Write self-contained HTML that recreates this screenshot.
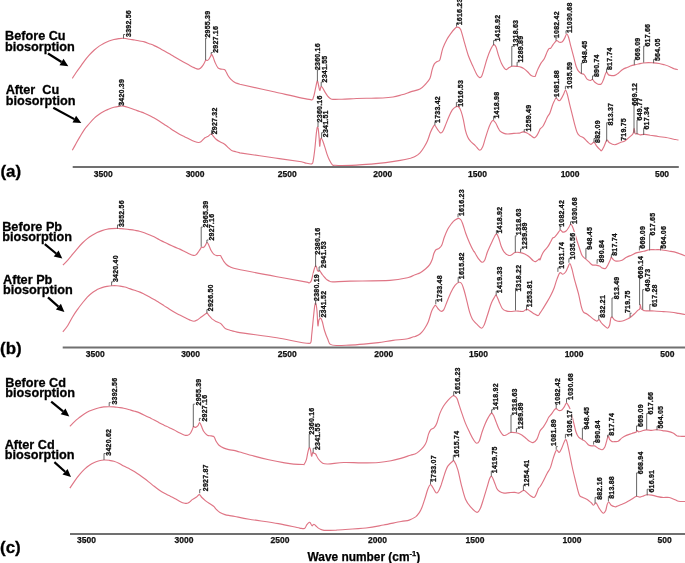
<!DOCTYPE html><html><head><meta charset="utf-8"><style>
html,body{margin:0;padding:0;background:#fff;}
body{width:685px;height:563px;overflow:hidden;position:relative;}
svg{position:absolute;left:0;top:0;display:block;will-change:transform;}
text{font-family:"Liberation Sans",sans-serif;font-weight:bold;}
</style></head><body>
<svg width="685" height="563" viewBox="0 0 685 563">
<line x1="72.7" y1="166.9" x2="678.8" y2="166.9" stroke="#707070" stroke-width="2"/>
<text x="103.2" y="176.5" font-size="8.5" text-anchor="middle" fill="#111" stroke="#111" stroke-width="0.25">3500</text>
<text x="195.1" y="176.5" font-size="8.5" text-anchor="middle" fill="#111" stroke="#111" stroke-width="0.25">3000</text>
<text x="287.2" y="176.5" font-size="8.5" text-anchor="middle" fill="#111" stroke="#111" stroke-width="0.25">2500</text>
<text x="382.8" y="176.5" font-size="8.5" text-anchor="middle" fill="#111" stroke="#111" stroke-width="0.25">2000</text>
<text x="477.5" y="176.5" font-size="8.5" text-anchor="middle" fill="#111" stroke="#111" stroke-width="0.25">1500</text>
<text x="570.1" y="176.5" font-size="8.5" text-anchor="middle" fill="#111" stroke="#111" stroke-width="0.25">1000</text>
<text x="662" y="176.5" font-size="8.5" text-anchor="middle" fill="#111" stroke="#111" stroke-width="0.25">500</text>
<line x1="62.7" y1="347.6" x2="685" y2="347.6" stroke="#707070" stroke-width="2"/>
<text x="95.3" y="357.4" font-size="8.5" text-anchor="middle" fill="#111" stroke="#111" stroke-width="0.25">3500</text>
<text x="190.6" y="357.4" font-size="8.5" text-anchor="middle" fill="#111" stroke="#111" stroke-width="0.25">3000</text>
<text x="287.2" y="357.4" font-size="8.5" text-anchor="middle" fill="#111" stroke="#111" stroke-width="0.25">2500</text>
<text x="383.8" y="357.4" font-size="8.5" text-anchor="middle" fill="#111" stroke="#111" stroke-width="0.25">2000</text>
<text x="478.5" y="357.4" font-size="8.5" text-anchor="middle" fill="#111" stroke="#111" stroke-width="0.25">1500</text>
<text x="574.1" y="357.4" font-size="8.5" text-anchor="middle" fill="#111" stroke="#111" stroke-width="0.25">1000</text>
<text x="667.3" y="357.4" font-size="8.5" text-anchor="middle" fill="#111" stroke="#111" stroke-width="0.25">500</text>
<line x1="70" y1="534.1" x2="685" y2="534.1" stroke="#707070" stroke-width="2"/>
<text x="86.5" y="543.4" font-size="8.5" text-anchor="middle" fill="#111" stroke="#111" stroke-width="0.25">3500</text>
<text x="184" y="543.4" font-size="8.5" text-anchor="middle" fill="#111" stroke="#111" stroke-width="0.25">3000</text>
<text x="280" y="543.4" font-size="8.5" text-anchor="middle" fill="#111" stroke="#111" stroke-width="0.25">2500</text>
<text x="377.5" y="543.4" font-size="8.5" text-anchor="middle" fill="#111" stroke="#111" stroke-width="0.25">2000</text>
<text x="475" y="543.4" font-size="8.5" text-anchor="middle" fill="#111" stroke="#111" stroke-width="0.25">1500</text>
<text x="572" y="543.4" font-size="8.5" text-anchor="middle" fill="#111" stroke="#111" stroke-width="0.25">1000</text>
<text x="664.6" y="543.4" font-size="8.5" text-anchor="middle" fill="#111" stroke="#111" stroke-width="0.25">500</text>
<path d="M72.3,78.4C72.9,77.5 74.6,74.8 75.8,73C77,71.2 78.2,69.6 79.7,67.6C81.2,65.6 82.9,62.9 84.5,60.8C86.1,58.7 87.8,56.7 89.4,54.9C91,53.1 92.7,51.5 94.3,50C95.9,48.5 97.6,47.2 99.2,46.1C100.8,45 102.5,44.1 104.1,43.2C105.7,42.4 107.4,41.6 109,41C110.6,40.4 112.3,39.9 113.9,39.5C115.5,39.1 117.2,38.8 118.8,38.6C120.4,38.4 121.8,38.2 123.6,38.3C125.4,38.4 128,39 129.8,39.3C131.7,39.6 133.1,39.7 134.7,40C136.3,40.3 138,40.7 139.6,41C141.2,41.3 142.8,41.4 144.4,41.9C146,42.4 147.7,43.1 149.3,43.7C150.9,44.3 152.6,44.9 154.2,45.6C155.8,46.3 157.5,47.2 159.1,48.1C160.7,49 162.4,49.8 164,50.7C165.6,51.6 167.3,52.5 168.9,53.5C170.5,54.5 172.2,55.4 173.8,56.4C175.4,57.4 177.7,58.7 178.7,59.3C179.7,59.9 178.9,59.4 179.9,60C180.9,60.6 183.2,61.8 184.8,62.7C186.4,63.6 188.1,64.5 189.7,65.4C191.3,66.3 193.2,67.3 194.6,67.9C196,68.5 197,69 198,69.1C199,69.2 199.6,68.9 200.4,68.3C201.2,67.7 202.2,66.5 202.9,65.4C203.6,64.4 204.3,62.9 204.8,62C205.3,61.1 205.4,60.2 205.8,60C206.2,59.8 206.8,60.6 207.3,60.5C207.8,60.4 208.1,60.2 208.7,59.5C209.3,58.8 210.2,57 210.7,56.1C211.2,55.2 211.3,54 211.7,54.2C212.1,54.4 212.5,55.7 213.1,57.1C213.7,58.5 214.3,60.7 215.1,62.5C215.9,64.3 217,66.8 218,67.9C219,69 219.8,68.8 220.9,69.1C222,69.4 223.6,69.1 224.4,69.5C225.2,69.9 225.2,70.3 225.8,71.3C226.4,72.2 227,73.9 227.8,75.2C228.6,76.5 229.5,77.9 230.7,79.1C231.9,80.3 233.5,81.7 235,82.5C236.5,83.3 235,82.6 239.9,84.2C246.6,85.8 263.2,89.4 275,92C286.8,94.6 304.2,98.8 310.6,99.6C313.5,100.4 312.7,98.9 313.5,97C314.3,95.1 315,90.7 315.6,88C316.2,85.3 316.8,81.5 317.3,81C317.8,80.5 318.1,83.4 318.5,85C318.9,86.6 319.3,90.2 319.8,90.5C320.3,90.8 320.5,86.1 321.5,86.6C322.5,87.1 324.6,91.7 325.8,93.4C327,95.1 327.5,96 328.5,97C329.5,98 329.5,98.8 331.7,99.2C333.9,99.6 337.8,99.3 341.9,99.2C346,99.1 351.6,98.7 356.5,98.5C361.4,98.3 366.7,98.3 371.1,98.2C375.5,98.1 379.2,98.2 382.8,98C386.4,97.8 389.8,97.5 393,97C396.2,96.5 398.9,95.6 401.8,94.8C404.7,94 407.5,92.9 410.5,91.9C413.5,90.9 417.5,90.3 420,89C422.5,87.7 424,85.8 425.7,84C427.4,82.2 428.9,80.7 430,78.3C431.1,75.9 431.4,72.2 432.1,69.8C432.8,67.4 433.4,65.5 434.2,64.1C435,62.7 436.2,62.2 437.1,61.5C438.1,60.8 438.9,62 439.9,59.8C440.8,57.6 441.6,51.8 442.8,48.4C444,45 445.6,41.8 447,39.2C448.4,36.6 450.1,34.5 451.3,32.8C452.6,31.1 453.6,29.9 454.5,29C455.4,28.1 456,27.1 457,27.1C458,27.1 459.3,26.8 460.5,29.2C461.7,31.6 462.8,36.9 464.1,41.3C465.4,45.7 466.9,51.5 468.3,55.5C469.7,59.5 471.2,62.3 472.6,65.5C474,68.7 475.7,72.7 476.9,74.7C478.1,76.7 478.9,77.4 479.7,77.6C480.5,77.8 481,77.5 481.8,75.9C482.6,74.3 483.4,71 484.3,68.1C485.2,65.2 486.1,61.4 487.2,58.3C488.2,55.2 489.5,51.8 490.6,49.5C491.7,47.2 492.7,45.1 493.6,44.7C494.5,44.3 495.2,45.3 496,47.1C496.8,48.9 497.6,52.7 498.5,55.4C499.4,58.1 500.4,61.1 501.4,63.2C502.4,65.3 503.5,67 504.3,68.1C505.1,69.2 505.5,69.7 506.3,69.6C507.1,69.5 508.2,68.2 509.2,67.6C510.2,67 510.8,66.4 512.1,66.2C513.4,66 515.5,66.2 517,66.4C518.5,66.6 519.8,66.7 520.9,67.1C522,67.5 522.8,67.8 523.9,68.6C525,69.4 526.6,70.8 527.8,72C529,73.2 530,74.8 531.2,75.5C532.4,76.2 534.2,76.6 535,76.4C535.8,76.2 535.3,75.9 535.8,74.6C536.3,73.3 537.2,70.7 538.1,68.8C539,66.9 540,64.8 541,63.1C542,61.4 543.4,60.4 544.4,58.5C545.4,56.6 546.5,53.1 547.3,51.5C548.1,49.9 548.4,49.3 549,48.7C549.6,48.1 550.1,48.8 550.8,48.1C551.5,47.4 552.1,45.9 553.1,44.6C554.1,43.4 555.5,41 556.5,40.6C557.5,40.2 558.4,42.1 559.4,42.3C560.4,42.5 561.4,42.4 562.3,41.7C563.2,41 563.9,39.6 564.6,38.3C565.3,37 566,34.1 566.7,34C567.4,33.9 568,35.6 568.7,37.7C569.4,39.9 570.1,43.6 571,46.9C571.9,50.2 572.9,54 573.8,57.3C574.7,60.6 575.4,64.2 576.2,66.5C577,68.8 577.6,70 578.5,71.2C579.4,72.4 580.3,72.9 581.3,73.5C582.2,74.1 583.2,73.6 584.2,74.6C585.2,75.5 586.1,78.2 587.1,79.2C588.1,80.2 589.4,80.5 590.3,80.5C591.2,80.5 591.7,79 592.4,79.3C593.1,79.5 593.6,81.2 594.6,82C595.6,82.8 597,83.9 598.1,84.2C599.2,84.5 600.3,84.7 601.2,84C602.1,83.3 602.7,81.5 603.4,79.8C604.1,78.1 605,74.9 605.6,73.6C606.2,72.3 606.3,71.8 606.7,71.9C607.1,72.1 607.6,73.9 608.2,74.5C608.8,75.1 609.3,75.2 610.4,75.4C611.5,75.6 613.5,75.8 614.8,75.4C616.1,75 617,74.2 618.3,73.2C619.6,72.2 621.2,70.4 622.7,69.4C624.2,68.5 625.5,68.1 627,67.5C628.5,66.9 630.1,66 631.4,65.6C632.6,65.2 633.3,65.2 634.5,64.9C635.7,64.6 636.9,64.3 638.4,64C639.9,63.7 641.5,63.2 643.2,63C644.9,62.8 646.7,62.6 648.5,62.6C650.3,62.6 652,62.8 653.8,62.9C655.6,63 657.3,63.2 659.1,63.5C660.9,63.8 662.6,64.3 664.4,64.8C666.2,65.3 668.2,66 669.8,66.7C671.4,67.4 672.7,68.3 674,68.8C675.3,69.3 677.2,69.5 677.8,69.6" fill="none" stroke="#df7585" stroke-width="1.15" stroke-linejoin="round"/>
<path d="M62.9,265.2C63.7,264.4 66.2,261.9 67.8,260.1C69.4,258.3 71.1,256.2 72.7,254.2C74.3,252.2 76,250.2 77.6,248.3C79.2,246.4 80.8,244.6 82.4,243C84,241.4 85.7,239.9 87.3,238.6C88.9,237.3 90.6,236.2 92.2,235.2C93.8,234.2 95.5,233.3 97.1,232.5C98.7,231.7 100.4,231.1 102,230.6C103.6,230.1 105.3,229.6 106.9,229.3C108.5,229 110.2,228.8 111.8,228.6C113.4,228.4 115.3,228.3 116.7,228.3C118.1,228.3 118.6,228.5 119.9,228.6C121.2,228.7 123.2,228.8 124.8,229C126.4,229.2 128.1,229.4 129.7,229.6C131.3,229.8 133,230 134.6,230.3C136.2,230.6 137.8,230.8 139.4,231.2C141,231.6 142.7,232.1 144.3,232.7C145.9,233.3 147.6,234 149.2,234.7C150.8,235.4 152.5,236 154.1,236.8C155.7,237.6 157.4,238.7 159,239.6C160.6,240.5 162.3,241.2 163.9,242C165.5,242.8 167,243.6 168.8,244.4C170.6,245.2 173.1,246.3 174.9,247.1C176.7,247.9 178.2,248.4 179.8,249.1C181.4,249.8 183.1,250.7 184.7,251.5C186.3,252.3 188.1,253.3 189.6,254C191.1,254.7 192.4,255.2 193.5,255.4C194.6,255.6 195.1,255.5 195.9,254.9C196.7,254.3 197.6,253 198.3,252C199,251 199.8,249.9 200.3,249.1C200.8,248.3 201,247.3 201.5,247.1C202,246.8 202.6,247.8 203.2,247.6C203.8,247.3 204.6,246.4 205.2,245.6C205.8,244.8 206.3,242.8 206.9,242.7C207.5,242.5 207.9,243.4 208.6,244.7C209.3,246 210.2,248.9 211.1,250.5C212,252.1 213,253.6 214,254.4C215,255.2 215.8,255.4 216.9,255.6C218,255.8 219.5,255.2 220.3,255.6C221.1,256 221.2,256.9 221.8,257.9C222.4,258.8 223,260.2 223.8,261.3C224.6,262.4 225.7,263.8 226.7,264.7C227.7,265.6 228.3,266 230,266.7C231.7,267.4 230,267.3 237.1,269C244.9,270.7 265.1,274.5 276.9,276.7C288.7,278.9 302.6,281.4 308.1,282.4C309.9,283.4 309.3,282.8 309.9,282.5C310.4,282.2 310.9,281.8 311.4,280.5C311.9,279.2 312.3,276.8 312.8,274.9C313.3,273 313.7,270.7 314.2,269.2C314.7,267.7 315.2,266.3 315.6,266C316,265.7 316.4,266.6 316.7,267.4C317,268.2 317.1,270 317.4,270.6C317.7,271.2 318.1,271.3 318.5,271.3C318.9,271.3 319.1,270.5 319.5,270.6C319.9,270.7 320.2,271.4 320.6,272C321,272.6 321.5,273.5 322,274.1C322.5,274.8 322.9,275.2 323.4,275.9C323.9,276.5 324.6,277.4 325.2,278C325.8,278.6 326.2,279.2 327,279.8C327.8,280.4 328.9,281 329.8,281.3C330.8,281.6 329.8,281.9 332.7,281.9C336.1,281.9 340.4,281.4 350,281.1C359.6,280.9 380.3,281 390,280.4C399.7,279.8 404.2,278.4 408.4,277.5C412.6,276.6 413,275.5 415,274.7C417,273.9 418.5,273.7 420.3,272.7C422.1,271.7 424.1,270 425.7,268.7C427.3,267.4 428.6,266.3 429.7,264.7C430.8,263.1 431.6,261.1 432.3,259.3C433,257.5 433.1,255.6 433.7,254C434.3,252.4 434.8,250.9 435.7,250C436.6,249.1 438,249.2 439,248.4C440,247.6 440.8,247.2 441.7,245.3C442.6,243.5 443.3,240 444.3,237.3C445.3,234.6 446.5,231.6 447.7,229.3C448.9,227 450.5,224.9 451.7,223.3C452.9,221.8 453.9,220.8 455,220C456.1,219.2 457.3,218.3 458.3,218.3C459.3,218.3 460.2,218.9 461,220C461.8,221.1 462.2,222.5 463,224.7C463.8,226.9 464.6,230.2 465.7,233.3C466.8,236.4 468.4,240.3 469.7,243.3C471,246.3 472.9,249.9 473.7,251.3C474.4,252.7 473.7,250.6 474.4,251.8C475.1,253 476.9,256.6 478.2,258.3C479.5,260 480.9,261.9 482,262.2C483.1,262.5 483.9,261.7 484.8,260C485.7,258.3 486.3,254.8 487.5,251.8C488.7,248.8 490.5,244.8 491.9,241.9C493.3,239 495,234.9 496.1,234.2C497.2,233.5 497.6,235.5 498.5,237.5C499.4,239.5 500.3,243.9 501.2,246.3C502.1,248.7 502.8,250.3 504,251.8C505.2,253.3 507,254.8 508.3,255.3C509.6,255.8 510.5,255.3 511.6,254.8C512.7,254.3 513.4,252.9 514.9,252.5C516.4,252.1 518.8,252.3 520.4,252.6C522,252.8 523.3,253.3 524.8,254C526.2,254.7 527.7,255.6 529.1,256.7C530.5,257.8 531.9,259.7 533,260.5C534.1,261.3 534.6,261.9 535.7,261.6C536.8,261.3 538.8,259.2 539.5,258.9C540,258.6 539.6,260.6 540,259.8C540.4,259.1 541.3,256 542.1,254.4C542.9,252.8 543.8,251.5 544.8,250.2C545.8,248.9 547,247.8 548,246.4C549,245 549.9,243.1 550.7,241.7C551.5,240.3 552.2,238.6 552.8,237.9C553.4,237.2 553.7,238 554.4,237.4C555.1,236.8 556.1,235.4 557.1,234.2C558.1,233 559.3,230.5 560.3,230.2C561.3,229.8 561.9,232 562.9,232.1C563.9,232.2 565.1,231.8 566.1,231C567.1,230.2 568,228.5 568.8,227.3C569.6,226.2 570.1,224.2 570.7,224.1C571.3,224 572,225.6 572.5,226.7C573,227.8 573.4,228.9 573.9,230.5C574.4,232.1 575,234.1 575.6,236C576.2,237.9 576.7,239.7 577.3,241.7C577.9,243.7 578.6,245.7 579.4,248C580.2,250.3 581.1,253.7 582.1,255.5C583.1,257.3 584.1,257.6 585.3,258.7C586.4,259.8 587.9,260.9 589,261.9C590.1,262.9 591,264.4 592.2,264.9C593.4,265.4 594.7,264.9 596,265.1C597.3,265.3 599.1,265.8 600,266.2C600.9,266.6 600.7,267.3 601.6,267.7C602.5,268.1 604.4,268.9 605.5,268.4C606.6,267.8 607.3,265.9 608.1,264.4C608.9,262.9 610,260.4 610.5,259.2C611,258 610.9,257.1 611.4,257.2C611.9,257.3 612.6,259.1 613.4,259.8C614.2,260.5 614.7,261 616,261.1C617.3,261.2 619.5,261.1 621.3,260.5C623,259.9 624.8,258.1 626.5,257.2C628.2,256.3 630,255.8 631.8,255C633.5,254.2 635,253.2 637,252.6C639,252 641.5,251.8 643.6,251.3C645.7,250.8 647.5,250 649.5,249.7C651.5,249.4 653.5,249.7 655.4,249.7C657.3,249.7 658.5,249.5 660.7,249.7C662.9,249.9 666,250.5 668.6,251C671.2,251.5 673.8,251.8 676.5,252.6C679.2,253.4 683.6,255.3 685,255.9" fill="none" stroke="#df7585" stroke-width="1.15" stroke-linejoin="round"/>
<path d="M69.9,426.3C70.7,425.5 73.2,422.9 74.8,421.4C76.4,419.9 78.1,418.6 79.7,417.3C81.3,416 83,414.8 84.6,413.8C86.2,412.8 87.8,411.9 89.4,411.1C91,410.3 92.7,409.8 94.3,409.2C95.9,408.6 97.6,408.1 99.2,407.7C100.8,407.3 102.5,407.1 104.1,406.9C105.7,406.7 107.4,406.7 109,406.7C110.6,406.7 112.3,406.8 113.9,406.9C115.5,407 117.2,407.3 118.8,407.5C120.4,407.7 121.9,407.8 123.7,408.2C125.5,408.6 128,409.3 129.8,409.8C131.6,410.3 133.1,410.7 134.7,411.2C136.3,411.7 138,412.2 139.6,412.9C141.2,413.6 142.8,414.4 144.4,415.2C146,416 147.7,416.8 149.3,417.6C150.9,418.4 152.6,419.1 154.2,420C155.8,420.9 157.5,421.8 159.1,422.7C160.7,423.6 162.4,424.4 164,425.2C165.6,426 167.3,426.6 168.9,427.4C170.5,428.2 172,428.9 173.8,429.8C175.6,430.7 178.1,432.1 179.9,433C181.7,433.9 183.5,434.8 184.8,435.2C186.1,435.6 186.8,435.5 187.7,435.2C188.6,434.9 189.5,434.4 190.2,433.5C190.9,432.6 191.5,431.1 192.1,430C192.7,428.9 193,427 193.6,426.6C194.2,426.2 194.8,427.6 195.5,427.4C196.2,427.2 197.3,426.4 198,425.6C198.7,424.8 199,422.4 199.6,422.5C200.2,422.6 200.7,424.6 201.4,426.1C202.1,427.6 202.8,430 203.8,431.5C204.8,433 206.1,434.5 207.3,435.2C208.5,435.9 210.1,435.6 211.2,435.9C212.3,436.2 213.3,436 214.1,436.9C214.9,437.8 215.3,439.9 216.1,441.3C216.9,442.7 217.7,444.1 219,445.2C220.3,446.3 222.3,447.4 223.9,448.1C225.5,448.8 227,449.2 228.8,449.6C230.7,450 233.2,450.2 235,450.6C236.8,451 236.4,451.1 239.6,452C242.8,452.9 249.3,454.8 254.2,456.1C259.1,457.4 263.9,458.6 268.8,459.7C273.7,460.8 279.3,461.9 283.4,462.6C287.5,463.3 290.2,463.8 293.6,464.1C297,464.4 301.7,464.5 303.5,464.5C304.2,464.5 303.7,465.1 304.2,464.3C304.7,463.5 305.8,461.6 306.4,459.7C307,457.8 307.3,454.6 307.8,452.6C308.3,450.6 308.7,448 309.2,447.6C309.7,447.2 310.2,449.1 310.6,450.5C311,451.9 311.2,455.8 311.6,456.2C312,456.6 312.3,453.1 312.7,452.6C313.1,452.1 313.4,453.1 313.9,453.3C314.4,453.5 314.9,453.1 315.6,454C316.4,454.9 317.2,457.4 318.4,459C319.6,460.6 321.1,462.5 322.7,463.3C324.3,464.1 324.5,464.1 328,464C331.5,463.9 338.2,462.7 343.8,462.5C349.4,462.3 355.5,462.9 361.3,462.9C367.1,462.9 373.8,462.9 378.8,462.5C383.8,462.1 387.3,461.5 391.1,460.8C394.9,460.1 398.4,459 401.6,458.1C404.8,457.2 408.2,455.9 410.4,455.2C412.6,454.5 413.5,454.7 415,454C416.5,453.3 417.9,452.3 419.3,451.1C420.7,449.9 422.3,448.4 423.5,446.9C424.7,445.4 425.6,444 426.4,441.9C427.2,439.8 427.8,436.1 428.5,434.1C429.2,432.1 429.7,430.9 430.6,429.8C431.6,428.7 433.1,428.9 434.2,427.7C435.3,426.5 436.1,425.1 437,422.7C437.9,420.3 438.8,416.1 439.9,413.4C441,410.7 442.1,408.4 443.4,406.3C444.7,404.2 446.3,402.2 447.7,400.6C449.1,399 450.9,397.2 452,396.4C453.1,395.6 453.3,395.3 454.1,395.7C454.9,396.1 456.2,397 457,398.5C457.8,400 458.3,402.4 459.1,404.9C459.9,407.4 460.8,410.3 461.9,413.4C463,416.5 464.2,420.2 465.5,423.4C466.8,426.6 468.4,429.8 469.8,432.7C471.2,435.6 472.9,438.8 474,440.5C475.1,442.2 475.7,443.1 476.6,443.2C477.5,443.3 478.4,442.8 479.3,441C480.2,439.2 481,435.1 482,432.2C483,429.3 484.2,426.1 485.3,423.5C486.4,420.9 487.6,418.6 488.6,416.9C489.6,415.2 490.6,413.4 491.4,413.1C492.2,412.8 492.7,413.8 493.5,415.3C494.3,416.9 495.4,420.1 496.3,422.4C497.2,424.7 497.9,426.9 499,429C500.1,431.1 501.7,434 502.9,435C504.1,436 504.8,435.4 506.1,435C507.4,434.6 508.9,432.9 510.5,432.5C512.1,432.1 514.4,432.5 516,432.8C517.6,433.1 518.9,433.5 520.4,434.2C521.9,434.9 523.3,436.1 524.8,437.2C526.2,438.3 527.7,440.1 529.1,441C530.5,441.9 531.7,442.9 533,442.6C534.3,442.3 535.6,441.3 536.8,439.4C538,437.5 539,433 540,431C541,429 542.1,428.8 543.1,427.3C544.1,425.9 545.3,424 546.2,422.3C547.1,420.6 547.8,418.8 548.7,417.3C549.6,415.9 550.9,414.8 551.8,413.6C552.7,412.4 553.6,410.7 554.3,409.9C555,409.1 555.5,408.5 556.2,408.6C556.9,408.7 557.8,410.3 558.7,410.5C559.6,410.7 560.9,410.5 561.8,409.9C562.7,409.3 563.5,407.9 564.3,406.8C565.1,405.7 565.8,403.3 566.4,403C567,402.7 567.4,404 568,404.9C568.6,405.8 569.2,406.8 569.9,408.6C570.6,410.5 571.3,413.3 572,416C572.7,418.7 573.5,422.1 574.2,424.8C574.9,427.5 575.4,430.2 576.1,432.3C576.8,434.4 577.6,436 578.6,437.2C579.6,438.4 581.2,439 582.3,439.7C583.4,440.4 584.3,440.7 585.4,441.6C586.5,442.5 588,444.6 589.1,445.3C590.2,446 591.3,445.8 592.2,445.9C593.1,446 593.7,445.5 594.7,445.9C595.8,446.3 597.2,447.8 598.5,448.4C599.8,449 601.2,449.9 602.2,449.7C603.2,449.5 604,448.5 604.7,447.2C605.4,445.9 605.9,443.5 606.5,441.6C607.1,439.7 607.7,436.3 608.2,436C608.7,435.7 609.1,438.8 609.7,439.7C610.4,440.6 611.2,441.3 612.1,441.6C613,441.9 614,441.7 615,441.6C616,441.5 617,441.8 618.2,441.2C619.4,440.6 620.6,438.9 622,437.9C623.4,436.9 624.8,436.1 626.4,435.4C628,434.7 630.2,434.1 631.9,433.5C633.5,432.9 635.4,432.4 636.3,431.9C637.2,431.4 637,430.6 637.4,430.6C637.8,430.6 637.8,431.8 638.5,431.9C639.2,432 640.5,431.3 641.8,431C643.1,430.7 644.5,430 646.1,429.9C647.7,429.8 649.8,430.3 651.6,430.3C653.4,430.3 655.3,429.6 657.1,429.7C658.9,429.8 660.8,430.3 662.6,430.6C664.4,430.9 666.3,431 668,431.4C669.7,431.8 671.5,432.3 673,433C674.5,433.7 675.6,435.1 676.8,435.7C678,436.2 678.7,436.2 680.1,436.3C681.5,436.4 684.2,436.3 685,436.3" fill="none" stroke="#df7585" stroke-width="1.15" stroke-linejoin="round"/>
<rect x="118.6" y="78.2" width="6.8" height="27.3" fill="#fff"/>
<rect x="211.2" y="106.7" width="6.8" height="27.3" fill="#fff"/>
<rect x="316.2" y="94.7" width="6.8" height="27.3" fill="#fff"/>
<rect x="321.9" y="109.6" width="6.8" height="27.3" fill="#fff"/>
<rect x="434.6" y="95.3" width="6.8" height="27.3" fill="#fff"/>
<rect x="457" y="79.2" width="6.8" height="27.3" fill="#fff"/>
<rect x="493.3" y="90.9" width="6.8" height="27.3" fill="#fff"/>
<rect x="524.9" y="104" width="6.8" height="27.3" fill="#fff"/>
<rect x="553.4" y="69.3" width="6.8" height="27.3" fill="#fff"/>
<rect x="565.7" y="61.1" width="6.8" height="27.3" fill="#fff"/>
<rect x="594.3" y="119.2" width="6.8" height="23.4" fill="#fff"/>
<rect x="607.2" y="101.8" width="6.8" height="23.4" fill="#fff"/>
<rect x="619.8" y="117.1" width="6.8" height="23.4" fill="#fff"/>
<rect x="631.4" y="81.8" width="6.8" height="23.4" fill="#fff"/>
<rect x="636.6" y="96.7" width="6.8" height="23.4" fill="#fff"/>
<rect x="643.3" y="105.9" width="6.8" height="23.4" fill="#fff"/>
<rect x="111.8" y="254.5" width="6.8" height="27.3" fill="#fff"/>
<rect x="206.8" y="283.6" width="6.8" height="27.3" fill="#fff"/>
<rect x="313.4" y="273.3" width="6.8" height="27.3" fill="#fff"/>
<rect x="320" y="290" width="6.8" height="27.3" fill="#fff"/>
<rect x="435.8" y="274.4" width="6.8" height="27.3" fill="#fff"/>
<rect x="458.6" y="251.6" width="6.8" height="27.3" fill="#fff"/>
<rect x="496.3" y="265.6" width="6.8" height="27.3" fill="#fff"/>
<rect x="515.6" y="263.9" width="6.8" height="27.3" fill="#fff"/>
<rect x="526.4" y="279.6" width="6.8" height="27.3" fill="#fff"/>
<rect x="558" y="241.2" width="6.8" height="27.3" fill="#fff"/>
<rect x="568.9" y="232" width="6.8" height="27.3" fill="#fff"/>
<rect x="599.4" y="294" width="6.8" height="23.4" fill="#fff"/>
<rect x="612.7" y="275.6" width="6.8" height="23.4" fill="#fff"/>
<rect x="624.2" y="289.4" width="6.8" height="23.4" fill="#fff"/>
<rect x="637" y="254.9" width="6.8" height="23.4" fill="#fff"/>
<rect x="644.1" y="267.7" width="6.8" height="23.4" fill="#fff"/>
<rect x="650.7" y="283.3" width="6.8" height="23.4" fill="#fff"/>
<rect x="105.6" y="428.1" width="6.8" height="27.3" fill="#fff"/>
<rect x="201.9" y="463.6" width="6.8" height="27.3" fill="#fff"/>
<rect x="430.6" y="454.4" width="6.8" height="27.3" fill="#fff"/>
<rect x="453.4" y="429.9" width="6.8" height="27.3" fill="#fff"/>
<rect x="491.4" y="445.6" width="6.8" height="27.3" fill="#fff"/>
<rect x="523.4" y="458.8" width="6.8" height="27.3" fill="#fff"/>
<rect x="550.3" y="418.3" width="6.8" height="27.3" fill="#fff"/>
<rect x="565.7" y="409.1" width="6.8" height="27.3" fill="#fff"/>
<rect x="595.7" y="476.1" width="6.8" height="23.4" fill="#fff"/>
<rect x="608.6" y="475.1" width="6.8" height="23.4" fill="#fff"/>
<rect x="637.2" y="450.5" width="6.8" height="23.4" fill="#fff"/>
<rect x="648.4" y="468.9" width="6.8" height="23.4" fill="#fff"/>
<path d="M72.3,150.3C72.9,149.2 74.6,146.2 75.8,144C77,141.8 78.2,139.5 79.7,137.1C81.2,134.7 82.9,131.6 84.5,129.3C86.1,127 87.8,125.4 89.4,123.5C91,121.6 92.7,119.6 94.3,118.1C95.9,116.5 97.6,115.3 99.2,114.2C100.8,113.1 102.5,112.1 104.1,111.2C105.7,110.3 107.4,109.7 109,109C110.6,108.3 112.3,107.7 113.9,107.3C115.5,106.9 117.2,106.6 118.8,106.4C120.4,106.2 121.8,105.8 123.6,106.1C125.4,106.4 128,107.4 129.8,108C131.7,108.6 133.1,109.2 134.7,109.8C136.3,110.4 138,110.9 139.6,111.5C141.2,112.1 142.8,112.5 144.4,113.2C146,113.9 147.7,114.6 149.3,115.4C150.9,116.2 152.6,117.2 154.2,118.1C155.8,119 157.5,120 159.1,121C160.7,122 162.4,123.1 164,124.2C165.6,125.3 167.3,126.3 168.9,127.4C170.5,128.5 172,129.6 173.8,130.8C175.6,132 178.1,133.4 179.9,134.4C181.7,135.4 183.2,136.1 184.8,136.9C186.4,137.7 188.1,138.5 189.7,139.3C191.3,140.1 193.1,141 194.6,141.5C196.1,142 197.4,142.4 198.5,142.5C199.6,142.6 200.1,142.3 200.9,141.8C201.7,141.3 202.6,140 203.3,139.3C204,138.6 204.5,138.1 205.3,137.6C206.1,137.1 207.2,136.8 208.2,136.2C209.2,135.5 210.6,133.8 211.4,133.7C212.2,133.6 212.3,135 213.1,135.9C213.9,136.8 214.9,138.3 216.1,139.3C217.2,140.3 218.7,141.1 220,141.8C221.3,142.5 222.9,143.1 223.9,143.7C224.9,144.3 225,144.5 225.8,145.2C226.6,145.9 227.8,147.2 228.8,148.1C229.8,149 230.5,150 231.7,150.6C232.9,151.2 234.6,151.4 236,151.8C237.4,152.2 236,151.9 239.9,152.9C246.4,153.9 264.8,156.5 275,158C285.2,159.5 296.4,161 301.4,161.8C305,162.6 303.3,162.6 305,162.9C306.7,163.2 310.4,164.4 311.8,163.9C313.2,163.4 312.8,162.4 313.3,160C313.8,157.6 314.3,153.4 314.8,149.2C315.3,145 315.8,138.2 316.2,134.6C316.6,131 316.9,128.7 317.2,127.7C317.5,126.7 317.9,126.9 318.2,128.7C318.5,130.5 318.9,135.6 319.2,138.5C319.4,141.4 319.5,146 319.7,146.3C319.9,146.6 320.2,141.8 320.4,140.4C320.6,139 320.7,138 321.1,138C321.5,138 322,139 322.6,140.4C323.2,141.8 323.9,144 324.6,146.3C325.3,148.6 326.2,151.8 327,154.1C327.8,156.4 328.5,158.2 329.4,160C330.3,161.8 331.5,164 332.4,164.9C333.3,165.8 333.4,165.2 335,165.3C336.6,165.4 338.3,165.5 341.9,165.5C345.5,165.5 351.6,165.3 356.5,165.1C361.4,164.9 366.2,164.5 371.1,164.1C376,163.7 380.8,163.2 385.7,162.6C390.6,162 396.2,161.1 400.3,160.4C404.4,159.7 408.1,158.8 410.5,158.2C412.9,157.5 413.4,157.4 415,156.5C416.6,155.6 418.6,154.2 420,152.8C421.4,151.4 422.5,149.8 423.7,147.8C424.9,145.8 426.3,143.6 427.4,141C428.5,138.4 429.5,134.8 430.5,132.3C431.5,129.8 432.9,127.2 433.6,126.1C434.3,124.9 434.3,124.9 434.9,125.4C435.5,125.9 436.5,127.9 437.4,129.2C438.3,130.4 439.6,132.6 440.5,132.9C441.4,133.2 442.1,132.6 443,131C443.9,129.4 445.1,126.1 446.1,123.6C447.1,121.1 448.2,118.4 449.2,116.1C450.2,113.8 451.2,111.5 452.3,109.9C453.4,108.4 455,107.3 456,106.8C457,106.3 457.7,106.1 458.5,106.8C459.3,107.5 460.2,108.9 461,111.1C461.8,113.3 462.7,116.7 463.4,119.8C464.1,122.9 464.6,126.9 465.3,129.8C466,132.7 466.9,135.2 467.8,137.2C468.7,139.2 469.7,140.2 470.9,141.6C472.1,142.9 474.1,144.4 475,145.3C475.9,146.2 475.8,146.3 476.6,147.1C477.4,147.9 478.9,150.2 479.9,150.2C480.9,150.2 481.7,149.1 482.6,147.1C483.5,145.1 484.4,141.2 485.3,138.3C486.2,135.4 487.2,132.2 488.1,129.6C489,127 490,124.5 490.8,123C491.6,121.5 492.2,120.3 493,120.3C493.8,120.3 494.9,121.8 495.7,123C496.5,124.2 497.2,126 497.9,127.4C498.6,128.8 499.1,130.2 500.1,131.2C501.1,132.2 502.7,132.9 504,133.4C505.3,133.9 506.2,134 507.8,134C509.4,134 511.9,133.6 513.8,133.4C515.7,133.2 517.8,133.4 519.3,133.1C520.8,132.8 521.8,131.8 523.1,131.8C524.4,131.8 525.7,132.3 527,132.9C528.3,133.5 529.6,134.8 530.8,135.6C532,136.4 533.1,137.8 534.1,137.8C535.1,137.8 535.9,136.9 536.8,135.6C537.7,134.3 539.1,131.2 539.6,130.1C540,129 539.6,129.8 540,129.1C540.6,128.4 542.2,127.3 543.1,126C544,124.7 544.9,122.5 545.6,121C546.3,119.5 546.8,118 547.5,116.7C548.2,115.4 549.1,114.9 549.9,113C550.7,111.1 551.7,107.5 552.4,105.5C553.1,103.5 553.7,102.3 554.3,101.1C554.9,99.8 555.4,98.1 556.1,98C556.8,97.9 557.9,100.2 558.6,100.5C559.3,100.8 559.7,100.9 560.5,99.9C561.3,98.9 562.8,96 563.6,94.3C564.4,92.6 564.9,90 565.5,90C566.1,90 566.6,91.8 567.3,94.3C568,96.8 569,101.5 569.8,104.9C570.6,108.3 571.5,111.5 572.3,114.8C573.1,118.1 574,121.8 574.8,124.8C575.6,127.8 576.5,131 577.3,132.8C578.1,134.7 578.8,135.1 579.8,135.9C580.8,136.7 582.3,136.9 583.5,137.8C584.7,138.7 586,140.4 587.2,141.5C588.4,142.6 589.8,144.3 590.9,144.4C592,144.5 593.1,141.8 594,142.1C594.9,142.3 595.5,144.7 596.5,145.9C597.5,147.2 599.1,148.8 600,149.6C600.9,150.4 600.9,151.2 601.6,150.6C602.3,150 603.3,147.8 604.2,146C605.1,144.2 605.9,140.7 606.8,140.1C607.7,139.5 608.2,141.9 609.5,142.7C610.8,143.5 613,144.7 614.7,144.7C616.5,144.7 618.2,143.4 620,142.7C621.8,142 623.6,141.7 625.2,140.7C626.8,139.7 628.5,138 629.8,136.8C631.1,135.6 632.4,134.9 633.1,133.5C633.8,132.1 633.9,128.3 634.2,128.3C634.5,128.3 634.6,132.6 635.1,133.5C635.6,134.4 636.2,133.3 637,133.5C637.8,133.7 638.5,134.7 639.7,134.8C640.9,135 642.5,134.3 644.3,134.4C646,134.5 647.9,134.8 650.2,135.2C652.5,135.5 655.5,136.1 658.1,136.5C660.7,136.9 663.4,137.1 666,137.5C668.6,137.9 671.7,138.8 673.8,139.2C675.9,139.6 677.6,139.9 678.4,140.1" fill="none" stroke="#df7585" stroke-width="1.15" stroke-linejoin="round"/>
<path d="M62.9,331.8C63.7,330.8 66.2,328 67.8,325.5C69.4,323 71.1,319.4 72.7,316.7C74.3,314 76,311.6 77.6,309.3C79.2,307 80.8,305 82.4,303C84,301 85.7,298.8 87.3,297.1C88.9,295.4 90.6,293.9 92.2,292.7C93.8,291.4 95.5,290.5 97.1,289.6C98.7,288.8 100.4,288.1 102,287.6C103.6,287.1 105.3,286.7 106.9,286.4C108.5,286.1 110.2,285.8 111.8,285.7C113.4,285.6 115.3,285.6 116.7,285.7C118.1,285.8 118.6,285.9 119.9,286.1C121.2,286.3 123.2,286.6 124.8,287C126.4,287.4 128.1,288.1 129.7,288.6C131.3,289.2 133,289.8 134.6,290.3C136.2,290.9 137.8,291.2 139.4,291.9C141,292.5 142.7,293.4 144.3,294.2C145.9,295 147.6,295.9 149.2,296.8C150.8,297.7 152.5,298.7 154.1,299.6C155.7,300.6 157.4,301.5 159,302.5C160.6,303.5 162.3,304.6 163.9,305.6C165.5,306.7 167,307.6 168.8,308.8C170.6,310 173.1,311.6 174.9,312.6C176.7,313.6 178.2,314.2 179.8,315C181.4,315.8 183.1,316.7 184.7,317.5C186.3,318.3 188,319.3 189.6,319.9C191.2,320.5 192.7,321.2 194,321.2C195.3,321.2 196.2,320.6 197.4,319.9C198.6,319.2 200.1,317.9 201.3,317C202.5,316.1 203.8,315.1 204.7,314.5C205.6,313.9 206.3,312.9 207,313.1C207.7,313.3 208.3,314.7 209.1,315.7C209.9,316.7 210.9,317.9 212,318.9C213.1,319.8 214.5,320.7 215.9,321.4C217.3,322.1 219.2,322.6 220.3,323.3C221.5,324 221.9,324.9 222.8,325.8C223.7,326.7 224.5,328 225.7,328.7C226.9,329.4 228.1,329.6 230,330.2C231.9,330.8 230,330.8 237.1,332.1C244.9,333.4 264.7,335.9 276.9,337.8C289.1,339.7 304.3,343.8 310.1,343.3C311.7,342.8 311.2,338.9 311.7,334.8C312.2,330.7 312.8,323.8 313.3,318.8C313.8,313.8 314.4,307.4 314.9,304.9C315.3,302.4 315.6,302.6 316,303.9C316.4,305.1 316.8,308.8 317.1,312.4C317.4,316 317.6,324.5 317.9,325.7C318.2,326.9 318.5,321 319,319.8C319.5,318.6 320.2,317.9 320.8,318.3C321.4,318.7 321.8,320 322.4,322C323,324 323.6,327.6 324.5,330.5C325.4,333.4 326.7,336.8 327.7,339.1C328.7,341.4 328.8,343.3 330.4,344.4C332,345.5 334.4,345.4 337.5,345.5C340.6,345.6 344.8,345.3 349.2,345.1C353.6,344.9 358.9,344.5 363.8,344.1C368.7,343.7 373.5,343.2 378.4,342.6C383.3,342 388.1,341 393,340.4C397.9,339.8 404.2,339.3 407.6,338.7C411,338.1 412.2,337.1 413.4,336.8C414.6,336.5 413.9,337.1 415,336.6C416.1,336.1 418.8,335 420.3,333.7C421.9,332.4 423,331 424.3,329C425.6,327 427.1,324.7 428.3,321.7C429.5,318.7 430.7,313.6 431.7,311C432.7,308.4 433.6,307.2 434.3,306.3C435,305.4 435,304.9 435.7,305.4C436.4,305.8 437.4,308 438.3,309C439.2,310 440.1,311.2 441,311.3C441.9,311.4 442.7,311.5 443.7,309.9C444.7,308.3 445.8,304.6 447,301.7C448.2,298.8 449.7,295 451,292.3C452.3,289.6 453.7,287.1 455,285.4C456.3,283.7 457.9,282.6 459,282.3C460.1,282 460.8,282.2 461.7,283.7C462.6,285.1 463.4,288 464.3,291C465.2,294 466.1,298.1 467,301.7C467.9,305.2 468.8,309.4 469.7,312.3C470.6,315.2 471.4,317.3 472.3,319C473.2,320.7 474.2,321.4 475,322.3C475.8,323.2 476,323.4 477.1,324.4C478.2,325.4 480.3,328.1 481.5,328.2C482.7,328.3 483.2,327.1 484.2,324.9C485.2,322.7 486.3,318.6 487.5,315C488.7,311.4 490.2,306 491.4,303C492.6,300 493.8,298.3 494.6,297C495.4,295.7 495.6,294.6 496.3,295.3C497,296 498,299.2 499,301.4C500,303.6 501.1,306.9 502.3,308.5C503.5,310.1 504.7,310.4 506.1,310.9C507.5,311.4 508.9,311.5 510.5,311.5C512.1,311.5 514,311.1 515.5,311C517,310.9 518,311.1 519.3,311.2C520.6,311.3 521.9,311.7 523.1,311.4C524.3,311.1 525.6,309.5 526.7,309.4C527.8,309.3 528.6,310 529.7,310.7C530.8,311.4 532.1,312.6 533.5,313.4C534.9,314.2 536.8,315.6 537.9,315.6C539,315.6 539,314.5 540,313.2C541,311.9 542.4,309.5 543.6,307.6C544.8,305.7 545.9,303.9 547.1,301.9C548.3,299.9 549.5,297.9 550.7,295.5C551.9,293.1 553.2,290.4 554.2,287.7C555.2,285 556,281.6 557,279.1C558,276.6 558.9,273.6 559.9,272.8C560.9,272 561.8,274.3 562.7,274.2C563.7,274.1 564.8,273.1 565.6,272C566.4,270.9 567,269.2 567.7,267.8C568.4,266.4 569.1,263.3 569.8,263.5C570.5,263.7 571.2,266.3 572,269.2C572.8,272.1 573.7,276.6 574.8,280.6C575.9,284.6 577.3,289.1 578.4,293.4C579.5,297.6 580.4,303 581.2,306.1C582,309.2 582.3,310.5 583.3,311.8C584.2,313.1 585.8,313.3 586.9,314C588,314.7 588.5,315.2 589.7,316.1C590.9,317 592.8,318.8 594,319.6C595.2,320.4 596,321.1 596.8,321.1C597.6,321.1 598.3,319.4 599,319.6C599.7,319.8 600.2,321.4 601.1,322.5C602,323.6 603.5,325.1 604.6,326C605.7,326.9 606.7,328.3 607.5,328.2C608.3,328.1 609,327.1 609.6,325.3C610.2,323.5 610.4,318.7 611,317.5C611.6,316.3 612.7,317.8 613.2,318.2C613.8,318.6 613.5,319.3 614.3,319.8C615.1,320.3 616.5,321.1 617.9,321.3C619.3,321.5 621,321.4 622.5,321C624,320.6 625.9,319.6 627.2,319C628.5,318.4 628.9,318.3 630.1,317.5C631.3,316.7 632.9,315.2 634.2,314C635.5,312.8 636.8,311.3 637.7,310.4C638.6,309.5 639.4,309.7 639.8,308.7C640.2,307.7 640.1,304.6 640.3,304.6C640.5,304.6 640.8,307.8 641.2,308.7C641.7,309.6 642.4,309.5 643,309.9C643.6,310.2 643.6,310.6 644.7,310.8C645.8,311 647.8,310.8 649.4,310.8C651,310.8 651.8,310.9 654.1,311C656.4,311.1 660.5,311.4 663.4,311.6C666.3,311.8 669.1,311.9 671.6,312.2C674.1,312.5 676.4,313 678.6,313.4C680.8,313.8 683.9,314.3 685,314.5" fill="none" stroke="#df7585" stroke-width="1.15" stroke-linejoin="round"/>
<path d="M69.9,488.1C70.7,486.9 73.2,483.1 74.8,480.8C76.4,478.5 78.1,476.3 79.7,474.4C81.3,472.4 83,470.6 84.6,469.1C86.2,467.6 87.8,466.3 89.4,465.2C91,464.1 92.7,463.2 94.3,462.5C95.9,461.8 97.6,461.2 99.2,460.8C100.8,460.4 102.5,460.1 104.1,460C105.7,459.9 107.4,460.1 109,460.3C110.6,460.5 112.3,460.7 113.9,461.2C115.5,461.7 117.2,462.4 118.8,463.2C120.4,464 121.9,465.2 123.7,466.1C125.5,467.1 128,467.9 129.8,468.9C131.6,469.8 133.1,470.8 134.7,471.8C136.3,472.8 138,473.9 139.6,475C141.2,476.1 142.8,477.3 144.4,478.5C146,479.7 147.7,481.1 149.3,482.4C150.9,483.7 152.6,485 154.2,486.3C155.8,487.6 157.5,488.9 159.1,490C160.7,491.1 162.4,492.2 164,493.1C165.6,494 167.3,494.8 168.9,495.6C170.5,496.4 172,497 173.8,498C175.6,499 178.1,500.5 179.9,501.4C181.7,502.3 183.6,503 184.8,503.3C186,503.6 186.4,503.5 187.2,503.3C188,503.1 188.8,502.5 189.7,501.9C190.6,501.2 191.5,500.2 192.6,499.4C193.7,498.6 195.4,497.8 196.5,497C197.6,496.2 198.5,494.5 199.4,494.6C200.3,494.7 200.9,496.5 201.9,497.5C202.9,498.5 204.1,499.6 205.3,500.6C206.5,501.6 207.8,502.4 209.2,503.3C210.6,504.2 212.4,505.3 213.6,506.3C214.8,507.3 215,508.1 216.1,509.2C217.2,510.2 218.5,511.7 220,512.6C221.5,513.5 223.3,514.1 224.9,514.6C226.5,515.1 228,515.3 229.7,515.6C231.4,515.9 231.8,515.9 235,516.5C238.2,517.1 242,518 249.2,519.2C256.4,520.4 270,522.1 278.4,523.6C286.8,525.1 295.3,527.3 299.7,528.1C304.1,528.9 303.4,528.9 304.6,528.4C305.8,527.9 305.9,525.9 306.7,524.9C307.5,523.9 308.7,522.6 309.3,522.3C309.9,522 310.1,522.5 310.5,523.1C310.9,523.7 311.5,525.6 312,525.8C312.5,526 313.1,524.3 313.7,524.3C314.3,524.2 314.7,524.9 315.5,525.5C316.3,526.1 317.4,527.4 318.4,528.1C319.4,528.8 320.3,529.2 321.3,529.6C322.3,530 322.7,530.3 324.2,530.4C325.7,530.5 328.2,530.4 330.1,530.4C332,530.4 334.4,530.4 335.5,530.3C336.6,530.2 335.5,530.4 336.8,530C341.9,529.6 358.2,528.8 366,528C373.8,527.2 377.7,526.1 383.5,525C389.3,523.9 396.7,522.3 401,521.5C405.3,520.7 406.8,520.9 409.2,520.1C411.6,519.3 413.9,518.1 415.6,516.9C417.3,515.6 418.2,514.2 419.3,512.6C420.4,511 421,509.8 422,507.3C423,504.8 424.2,500.7 425.2,497.7C426.2,494.7 426.9,491.4 427.8,489.2C428.7,487 429.5,485 430.3,484.7C431.1,484.4 431.8,485.9 432.6,487.1C433.4,488.3 434.6,490.8 435.3,491.8C436,492.8 436.3,493.2 436.9,492.9C437.5,492.6 438.3,491.5 439,490.2C439.7,488.9 440.4,487 441.2,484.9C441.9,482.8 442.7,480 443.5,477.5C444.3,475 445.2,471.9 446,470C446.8,468.1 446.9,467.3 448,465.9C449.1,464.5 451.4,462.3 452.4,461.5C453.4,460.7 453.3,459.9 454.2,461.2C455.1,462.5 456.5,465.5 457.7,469.4C458.9,473.2 459.9,479.3 461.2,484.3C462.5,489.3 463.9,495.4 465.5,499.2C467.1,503 468.9,504.9 470.8,507.1C472.7,509.3 475.5,512.2 477.1,512.4C478.7,512.6 479.3,510.5 480.4,508.2C481.5,505.9 482.6,501.8 483.7,498.3C484.8,494.8 486,490.7 487,487.4C488,484.1 488.9,480.4 489.7,478.6C490.5,476.8 491,475.9 491.7,476.4C492.4,476.9 493.2,479.4 494.1,481.4C495,483.4 495.9,486.8 496.8,488.5C497.7,490.2 498.4,490.7 499.6,491.5C500.8,492.3 502.4,492.9 504,493.1C505.6,493.3 507.6,492.7 509.4,492.6C511.2,492.5 513.3,492.3 514.9,492.4C516.5,492.5 517.2,493.4 518.7,493.1C520.2,492.8 522.3,490.5 523.7,490.4C525.1,490.3 525.9,491.7 527,492.6C528.1,493.5 529,494.8 530.2,495.6C531.4,496.4 533.1,497.8 534.1,497.5C535.1,497.2 535.6,495.5 536.3,494C537,492.5 537.9,489.7 538.5,488.5C539.1,487.3 539.2,488 540,486.8C540.8,485.6 542,483.5 543.2,481.2C544.4,478.9 546,475.5 547.2,473.2C548.4,470.9 549.5,469.9 550.4,467.6C551.3,465.3 552,462.1 552.8,459.6C553.6,457.1 554.5,454 555.2,452.4C555.9,450.8 556.1,450 556.8,450C557.5,450 558.4,452.7 559.2,452.4C560,452.1 560.6,450.5 561.6,448.4C562.6,446.3 564.4,440.8 565.3,439.9C566.2,439 566.5,440.4 567.2,442.8C567.9,445.2 568.8,450.1 569.6,454C570.4,457.9 571.1,461.7 572,466C572.9,470.3 574,474.8 575.2,479.6C576.4,484.4 578,491.9 579.2,494.8C580.4,497.7 581.1,496.4 582.4,497.2C583.7,498 585.7,498.7 587.2,499.6C588.7,500.5 590.1,501.9 591.2,502.8C592.3,503.7 592.8,505.2 593.6,505.2C594.4,505.2 595.1,502.3 596,502.8C596.9,503.3 598,506.7 599.2,508.4C600.4,510.1 602.1,512.8 603.2,513.2C604.3,513.6 604.9,512.3 605.6,510.8C606.3,509.3 606.7,505.9 607.2,504.4C607.7,502.9 608.1,501.9 608.8,502C609.5,502.1 610.2,504.4 611.2,505.2C612.2,506 614.1,506.6 615,506.8C615.9,507 615.6,506.8 616.7,506.4C617.8,506 619.9,505.1 621.4,504.5C622.9,503.9 624.5,503.3 626,502.5C627.5,501.7 629,500.8 630.7,499.8C632.4,498.8 634.8,496.8 636.3,496.3C637.8,495.9 638.8,497.2 640,497.1C641.2,497 642.5,496.3 643.6,495.9C644.7,495.5 645.4,494.9 646.8,494.8C648.1,494.7 649.9,494.8 651.7,495.1C653.5,495.4 655.7,496.2 657.6,496.6C659.5,497 661.5,497.4 663.4,497.5C665.3,497.6 667.3,497.1 669.3,497.5C671.2,497.9 673.5,499.2 675.1,499.8C676.7,500.4 677,501 678.6,501.3C680.2,501.6 683.9,501.5 685,501.5" fill="none" stroke="#df7585" stroke-width="1.15" stroke-linejoin="round"/>
<path d="M123.5,38.5V34.5H125" fill="none" stroke="#555555" stroke-width="0.9"/>
<text transform="translate(130.8,36.9) rotate(-90)" font-size="7.0" letter-spacing="0.22" fill="#111" stroke="#111" stroke-width="0.3">3392.56</text>
<path d="M205.6,60V38.1H207.1" fill="none" stroke="#555555" stroke-width="0.9"/>
<text transform="translate(209.9,37.5) rotate(-90)" font-size="7.0" letter-spacing="0.22" fill="#111" stroke="#111" stroke-width="0.3">2955.39</text>
<path d="M211.2,54.2V52.5H212.7" fill="none" stroke="#555555" stroke-width="0.9"/>
<text transform="translate(218,52.8) rotate(-90)" font-size="7.0" letter-spacing="0.22" fill="#111" stroke="#111" stroke-width="0.3">2927.16</text>
<path d="M317.4,81.3V69.7H318.9" fill="none" stroke="#555555" stroke-width="0.9"/>
<text transform="translate(319.8,70) rotate(-90)" font-size="7.0" letter-spacing="0.22" fill="#111" stroke="#111" stroke-width="0.3">2360.16</text>
<path d="M321.2,86.3V82.1H322.7" fill="none" stroke="#555555" stroke-width="0.9"/>
<text transform="translate(327.3,82.4) rotate(-90)" font-size="7.0" letter-spacing="0.22" fill="#111" stroke="#111" stroke-width="0.3">2341.55</text>
<path d="M456.5,26.6V23H458" fill="none" stroke="#555555" stroke-width="0.9"/>
<text transform="translate(462.4,25.3) rotate(-90)" font-size="7.0" letter-spacing="0.22" fill="#111" stroke="#111" stroke-width="0.3">1616.23</text>
<path d="M493.6,45.2V40.5H495.1" fill="none" stroke="#555555" stroke-width="0.9"/>
<text transform="translate(500.2,41.5) rotate(-90)" font-size="7.0" letter-spacing="0.22" fill="#111" stroke="#111" stroke-width="0.3">1418.92</text>
<path d="M511.8,66.2V46.4H513.3" fill="none" stroke="#555555" stroke-width="0.9"/>
<text transform="translate(517.7,46.7) rotate(-90)" font-size="7.0" letter-spacing="0.22" fill="#111" stroke="#111" stroke-width="0.3">1318.63</text>
<path d="M517.1,66.2V62.2H518.6" fill="none" stroke="#555555" stroke-width="0.9"/>
<text transform="translate(523.3,62.5) rotate(-90)" font-size="7.0" letter-spacing="0.22" fill="#111" stroke="#111" stroke-width="0.3">1289.89</text>
<path d="M556,40.6V37.8H557.5" fill="none" stroke="#555555" stroke-width="0.9"/>
<text transform="translate(558.5,38.1) rotate(-90)" font-size="7.0" letter-spacing="0.22" fill="#111" stroke="#111" stroke-width="0.3">1082.42</text>
<path d="M566,33.7V30.7H567.5" fill="none" stroke="#555555" stroke-width="0.9"/>
<text transform="translate(571.5,33) rotate(-90)" font-size="7.0" letter-spacing="0.22" fill="#111" stroke="#111" stroke-width="0.3">11030.68</text>
<path d="M581.4,73.7V63H582.9" fill="none" stroke="#555555" stroke-width="0.9"/>
<text transform="translate(587.1,63.3) rotate(-90)" font-size="7.0" letter-spacing="0.22" fill="#111" stroke="#111" stroke-width="0.3">948.45</text>
<path d="M592.5,79.9V75.9H594" fill="none" stroke="#555555" stroke-width="0.9"/>
<text transform="translate(598.7,77.1) rotate(-90)" font-size="7.0" letter-spacing="0.22" fill="#111" stroke="#111" stroke-width="0.3">890.74</text>
<path d="M606.6,72.3V68.8H608.1" fill="none" stroke="#555555" stroke-width="0.9"/>
<text transform="translate(612.2,70) rotate(-90)" font-size="7.0" letter-spacing="0.22" fill="#111" stroke="#111" stroke-width="0.3">817.74</text>
<path d="M634.3,64.8V59.8H635.8" fill="none" stroke="#555555" stroke-width="0.9"/>
<text transform="translate(639.9,60.3) rotate(-90)" font-size="7.0" letter-spacing="0.22" fill="#111" stroke="#111" stroke-width="0.3">669.09</text>
<path d="M643.7,62.6V46.1H645.2" fill="none" stroke="#555555" stroke-width="0.9"/>
<text transform="translate(649.7,46.6) rotate(-90)" font-size="7.0" letter-spacing="0.22" fill="#111" stroke="#111" stroke-width="0.3">617.66</text>
<path d="M653.6,63.2V59.4H655.1" fill="none" stroke="#555555" stroke-width="0.9"/>
<text transform="translate(659.9,61.1) rotate(-90)" font-size="7.0" letter-spacing="0.22" fill="#111" stroke="#111" stroke-width="0.3">564.05</text>
<path d="M119,106.5V102.7H120.5" fill="none" stroke="#555555" stroke-width="0.9"/>
<text transform="translate(124.4,105.8) rotate(-90)" font-size="7.0" letter-spacing="0.22" fill="#111" stroke="#111" stroke-width="0.3">3420.39</text>
<path d="M211.6,135V130.2H213.1" fill="none" stroke="#555555" stroke-width="0.9"/>
<text transform="translate(217,134.3) rotate(-90)" font-size="7.0" letter-spacing="0.22" fill="#111" stroke="#111" stroke-width="0.3">2927.32</text>
<path d="M318,127V122H319.5" fill="none" stroke="#555555" stroke-width="0.9"/>
<text transform="translate(322,122.3) rotate(-90)" font-size="7.0" letter-spacing="0.22" fill="#111" stroke="#111" stroke-width="0.3">2360.16</text>
<path d="M321.6,138.3V132.7H323.1" fill="none" stroke="#555555" stroke-width="0.9"/>
<text transform="translate(327.7,137.2) rotate(-90)" font-size="7.0" letter-spacing="0.22" fill="#111" stroke="#111" stroke-width="0.3">2341.51</text>
<path d="M434.9,125.2V121.7H436.4" fill="none" stroke="#555555" stroke-width="0.9"/>
<text transform="translate(440.4,122.9) rotate(-90)" font-size="7.0" letter-spacing="0.22" fill="#111" stroke="#111" stroke-width="0.3">1733.42</text>
<path d="M456.4,106.8V102.4H457.9" fill="none" stroke="#555555" stroke-width="0.9"/>
<text transform="translate(462.8,106.8) rotate(-90)" font-size="7.0" letter-spacing="0.22" fill="#111" stroke="#111" stroke-width="0.3">1616.53</text>
<path d="M493.6,119.9V116.4H495.1" fill="none" stroke="#555555" stroke-width="0.9"/>
<text transform="translate(499.1,118.5) rotate(-90)" font-size="7.0" letter-spacing="0.22" fill="#111" stroke="#111" stroke-width="0.3">1418.98</text>
<path d="M524.2,132.2V129.6H525.7" fill="none" stroke="#555555" stroke-width="0.9"/>
<text transform="translate(530.7,131.6) rotate(-90)" font-size="7.0" letter-spacing="0.22" fill="#111" stroke="#111" stroke-width="0.3">1259.49</text>
<path d="M556.2,98.6V95.5H557.7" fill="none" stroke="#555555" stroke-width="0.9"/>
<text transform="translate(559.2,96.9) rotate(-90)" font-size="7.0" letter-spacing="0.22" fill="#111" stroke="#111" stroke-width="0.3">1081.88</text>
<path d="M565.4,89.4V86.3H566.9" fill="none" stroke="#555555" stroke-width="0.9"/>
<text transform="translate(571.5,88.7) rotate(-90)" font-size="7.0" letter-spacing="0.22" fill="#111" stroke="#111" stroke-width="0.3">1035.59</text>
<path d="M594,142.6V138.5H595.5" fill="none" stroke="#555555" stroke-width="0.9"/>
<text transform="translate(600.1,142.9) rotate(-90)" font-size="7.0" letter-spacing="0.22" fill="#111" stroke="#111" stroke-width="0.3">882.09</text>
<path d="M606.7,141.5V122.7H608.2" fill="none" stroke="#555555" stroke-width="0.9"/>
<text transform="translate(613,125.5) rotate(-90)" font-size="7.0" letter-spacing="0.22" fill="#111" stroke="#111" stroke-width="0.3">813.37</text>
<text transform="translate(625.6,140.8) rotate(-90)" font-size="7.0" letter-spacing="0.22" fill="#111" stroke="#111" stroke-width="0.3">719.75</text>
<path d="M634,133.2V105.2H635.5" fill="none" stroke="#555555" stroke-width="0.9"/>
<text transform="translate(637.2,105.5) rotate(-90)" font-size="7.0" letter-spacing="0.22" fill="#111" stroke="#111" stroke-width="0.3">669.12</text>
<path d="M637,134.4V120.1H638.5" fill="none" stroke="#555555" stroke-width="0.9"/>
<text transform="translate(642.4,120.4) rotate(-90)" font-size="7.0" letter-spacing="0.22" fill="#111" stroke="#111" stroke-width="0.3">649.77</text>
<path d="M643.7,135V128.2H645.2" fill="none" stroke="#555555" stroke-width="0.9"/>
<text transform="translate(649.1,129.6) rotate(-90)" font-size="7.0" letter-spacing="0.22" fill="#111" stroke="#111" stroke-width="0.3">617.34</text>
<path d="M117.5,228.7V224.9H119" fill="none" stroke="#555555" stroke-width="0.9"/>
<text transform="translate(124,227.1) rotate(-90)" font-size="7.0" letter-spacing="0.22" fill="#111" stroke="#111" stroke-width="0.3">3352.56</text>
<path d="M201.2,246.7V227.1H202.7" fill="none" stroke="#555555" stroke-width="0.9"/>
<text transform="translate(207.5,227.4) rotate(-90)" font-size="7.0" letter-spacing="0.22" fill="#111" stroke="#111" stroke-width="0.3">2965.39</text>
<path d="M206.9,243V240H208.4" fill="none" stroke="#555555" stroke-width="0.9"/>
<text transform="translate(213.9,240.6) rotate(-90)" font-size="7.0" letter-spacing="0.22" fill="#111" stroke="#111" stroke-width="0.3">2927.16</text>
<path d="M315.6,266.9V254.1H317.1" fill="none" stroke="#555555" stroke-width="0.9"/>
<text transform="translate(319.9,254.4) rotate(-90)" font-size="7.0" letter-spacing="0.22" fill="#111" stroke="#111" stroke-width="0.3">2380.16</text>
<path d="M319.1,271.2V266.9H320.6" fill="none" stroke="#555555" stroke-width="0.9"/>
<text transform="translate(325.6,267.9) rotate(-90)" font-size="7.0" letter-spacing="0.22" fill="#111" stroke="#111" stroke-width="0.3">2941.53</text>
<path d="M458,217.4V213.9H459.5" fill="none" stroke="#555555" stroke-width="0.9"/>
<text transform="translate(464.3,216) rotate(-90)" font-size="7.0" letter-spacing="0.22" fill="#111" stroke="#111" stroke-width="0.3">1616.23</text>
<path d="M496.4,234.1V230.5H497.9" fill="none" stroke="#555555" stroke-width="0.9"/>
<text transform="translate(501.9,233.5) rotate(-90)" font-size="7.0" letter-spacing="0.22" fill="#111" stroke="#111" stroke-width="0.3">1418.92</text>
<path d="M515.3,252.4V235.8H516.8" fill="none" stroke="#555555" stroke-width="0.9"/>
<text transform="translate(521.2,235.2) rotate(-90)" font-size="7.0" letter-spacing="0.22" fill="#111" stroke="#111" stroke-width="0.3">1318.63</text>
<path d="M520.6,252.4V248.9H522.1" fill="none" stroke="#555555" stroke-width="0.9"/>
<text transform="translate(526.5,249.2) rotate(-90)" font-size="7.0" letter-spacing="0.22" fill="#111" stroke="#111" stroke-width="0.3">1239.89</text>
<path d="M560.1,230V226.5H561.6" fill="none" stroke="#555555" stroke-width="0.9"/>
<text transform="translate(564.1,226.8) rotate(-90)" font-size="7.0" letter-spacing="0.22" fill="#111" stroke="#111" stroke-width="0.3">1082.42</text>
<path d="M570.5,224.9V221.8H572" fill="none" stroke="#555555" stroke-width="0.9"/>
<text transform="translate(576.6,224.1) rotate(-90)" font-size="7.0" letter-spacing="0.22" fill="#111" stroke="#111" stroke-width="0.3">1030.68</text>
<path d="M585.9,258.6V248.4H587.4" fill="none" stroke="#555555" stroke-width="0.9"/>
<text transform="translate(591.9,249.7) rotate(-90)" font-size="7.0" letter-spacing="0.22" fill="#111" stroke="#111" stroke-width="0.3">948.45</text>
<path d="M597.1,263.7V259.6H598.6" fill="none" stroke="#555555" stroke-width="0.9"/>
<text transform="translate(603.5,262.6) rotate(-90)" font-size="7.0" letter-spacing="0.22" fill="#111" stroke="#111" stroke-width="0.3">890.84</text>
<path d="M611.4,257.6V254.5H612.9" fill="none" stroke="#555555" stroke-width="0.9"/>
<text transform="translate(617.4,255.8) rotate(-90)" font-size="7.0" letter-spacing="0.22" fill="#111" stroke="#111" stroke-width="0.3">817.74</text>
<path d="M639.4,250.4V246.3H640.9" fill="none" stroke="#555555" stroke-width="0.9"/>
<text transform="translate(645,248.7) rotate(-90)" font-size="7.0" letter-spacing="0.22" fill="#111" stroke="#111" stroke-width="0.3">669.09</text>
<path d="M649.6,250.4V234.1H651.1" fill="none" stroke="#555555" stroke-width="0.9"/>
<text transform="translate(655.3,235.4) rotate(-90)" font-size="7.0" letter-spacing="0.22" fill="#111" stroke="#111" stroke-width="0.3">617.65</text>
<path d="M660.5,250.4V246.3H662" fill="none" stroke="#555555" stroke-width="0.9"/>
<text transform="translate(666.1,248.7) rotate(-90)" font-size="7.0" letter-spacing="0.22" fill="#111" stroke="#111" stroke-width="0.3">564.06</text>
<path d="M111.6,285.5V281.8H113.1" fill="none" stroke="#555555" stroke-width="0.9"/>
<text transform="translate(117.6,282.1) rotate(-90)" font-size="7.0" letter-spacing="0.22" fill="#111" stroke="#111" stroke-width="0.3">3420.40</text>
<path d="M206.9,313.3V309.6H208.4" fill="none" stroke="#555555" stroke-width="0.9"/>
<text transform="translate(212.6,311.2) rotate(-90)" font-size="7.0" letter-spacing="0.22" fill="#111" stroke="#111" stroke-width="0.3">2926.50</text>
<path d="M315.6,304.8V300.6H317.1" fill="none" stroke="#555555" stroke-width="0.9"/>
<text transform="translate(319.2,300.9) rotate(-90)" font-size="7.0" letter-spacing="0.22" fill="#111" stroke="#111" stroke-width="0.3">2380.19</text>
<path d="M319.6,317.5V310.5H321.1" fill="none" stroke="#555555" stroke-width="0.9"/>
<text transform="translate(325.8,317.6) rotate(-90)" font-size="7.0" letter-spacing="0.22" fill="#111" stroke="#111" stroke-width="0.3">2341.52</text>
<path d="M435.8,304.3V299.9H437.3" fill="none" stroke="#555555" stroke-width="0.9"/>
<text transform="translate(441.6,302) rotate(-90)" font-size="7.0" letter-spacing="0.22" fill="#111" stroke="#111" stroke-width="0.3">1733.48</text>
<path d="M458.2,282.4V277.2H459.7" fill="none" stroke="#555555" stroke-width="0.9"/>
<text transform="translate(464.4,279.2) rotate(-90)" font-size="7.0" letter-spacing="0.22" fill="#111" stroke="#111" stroke-width="0.3">1615.82</text>
<path d="M496.2,295.5V291.2H497.7" fill="none" stroke="#555555" stroke-width="0.9"/>
<text transform="translate(502.1,293.2) rotate(-90)" font-size="7.0" letter-spacing="0.22" fill="#111" stroke="#111" stroke-width="0.3">1419.33</text>
<path d="M515.5,310.4V288.2H517" fill="none" stroke="#555555" stroke-width="0.9"/>
<text transform="translate(521.4,291.5) rotate(-90)" font-size="7.0" letter-spacing="0.22" fill="#111" stroke="#111" stroke-width="0.3">1318.22</text>
<path d="M526.5,310.4V305.2H528" fill="none" stroke="#555555" stroke-width="0.9"/>
<text transform="translate(532.2,307.2) rotate(-90)" font-size="7.0" letter-spacing="0.22" fill="#111" stroke="#111" stroke-width="0.3">1253.81</text>
<path d="M557.9,271.9V267.8H559.4" fill="none" stroke="#555555" stroke-width="0.9"/>
<text transform="translate(563.8,268.8) rotate(-90)" font-size="7.0" letter-spacing="0.22" fill="#111" stroke="#111" stroke-width="0.3">1031.74</text>
<path d="M568.9,262.7V258.6H570.4" fill="none" stroke="#555555" stroke-width="0.9"/>
<text transform="translate(574.7,259.6) rotate(-90)" font-size="7.0" letter-spacing="0.22" fill="#111" stroke="#111" stroke-width="0.3">1035.56</text>
<path d="M598.8,319.5V315.4H600.3" fill="none" stroke="#555555" stroke-width="0.9"/>
<text transform="translate(605.2,317.7) rotate(-90)" font-size="7.0" letter-spacing="0.22" fill="#111" stroke="#111" stroke-width="0.3">832.21</text>
<path d="M612,317.4V298H613.5" fill="none" stroke="#555555" stroke-width="0.9"/>
<text transform="translate(618.5,299.3) rotate(-90)" font-size="7.0" letter-spacing="0.22" fill="#111" stroke="#111" stroke-width="0.3">813.49</text>
<path d="M630.1,317.2V313.2H631.6" fill="none" stroke="#555555" stroke-width="0.9"/>
<text transform="translate(630,313.1) rotate(-90)" font-size="7.0" letter-spacing="0.22" fill="#111" stroke="#111" stroke-width="0.3">719.75</text>
<path d="M639.6,305.2V278.3H641.1" fill="none" stroke="#555555" stroke-width="0.9"/>
<text transform="translate(642.8,278.6) rotate(-90)" font-size="7.0" letter-spacing="0.22" fill="#111" stroke="#111" stroke-width="0.3">669.14</text>
<path d="M642.7,309.5V289.6H644.2" fill="none" stroke="#555555" stroke-width="0.9"/>
<text transform="translate(649.9,291.4) rotate(-90)" font-size="7.0" letter-spacing="0.22" fill="#111" stroke="#111" stroke-width="0.3">649.73</text>
<path d="M649.8,310.5V304.5H651.3" fill="none" stroke="#555555" stroke-width="0.9"/>
<text transform="translate(656.5,307) rotate(-90)" font-size="7.0" letter-spacing="0.22" fill="#111" stroke="#111" stroke-width="0.3">617.28</text>
<path d="M109.2,406.1V402.6H110.7" fill="none" stroke="#555555" stroke-width="0.9"/>
<text transform="translate(116.7,404.5) rotate(-90)" font-size="7.0" letter-spacing="0.22" fill="#111" stroke="#111" stroke-width="0.3">3392.56</text>
<path d="M193.3,426.9V404.2H194.8" fill="none" stroke="#555555" stroke-width="0.9"/>
<text transform="translate(201,405.4) rotate(-90)" font-size="7.0" letter-spacing="0.22" fill="#111" stroke="#111" stroke-width="0.3">2955.39</text>
<path d="M199.4,421.2V418.4H200.9" fill="none" stroke="#555555" stroke-width="0.9"/>
<text transform="translate(206.7,421.5) rotate(-90)" font-size="7.0" letter-spacing="0.22" fill="#111" stroke="#111" stroke-width="0.3">2927.16</text>
<path d="M309.2,447.6V434.1H310.7" fill="none" stroke="#555555" stroke-width="0.9"/>
<text transform="translate(314.2,434.4) rotate(-90)" font-size="7.0" letter-spacing="0.22" fill="#111" stroke="#111" stroke-width="0.3">2360.16</text>
<path d="M313.2,452.6V448.3H314.7" fill="none" stroke="#555555" stroke-width="0.9"/>
<text transform="translate(319.8,450.1) rotate(-90)" font-size="7.0" letter-spacing="0.22" fill="#111" stroke="#111" stroke-width="0.3">2341.55</text>
<path d="M453.7,395.7V391.6H455.2" fill="none" stroke="#555555" stroke-width="0.9"/>
<text transform="translate(459.9,394.2) rotate(-90)" font-size="7.0" letter-spacing="0.22" fill="#111" stroke="#111" stroke-width="0.3">1616.23</text>
<path d="M491.7,413.2V409.7H493.2" fill="none" stroke="#555555" stroke-width="0.9"/>
<text transform="translate(497.6,410) rotate(-90)" font-size="7.0" letter-spacing="0.22" fill="#111" stroke="#111" stroke-width="0.3">1418.92</text>
<path d="M511,432.4V414.9H512.5" fill="none" stroke="#555555" stroke-width="0.9"/>
<text transform="translate(516.8,415.2) rotate(-90)" font-size="7.0" letter-spacing="0.22" fill="#111" stroke="#111" stroke-width="0.3">1318.63</text>
<path d="M516.4,432.2V428.6H517.9" fill="none" stroke="#555555" stroke-width="0.9"/>
<text transform="translate(523.2,429.2) rotate(-90)" font-size="7.0" letter-spacing="0.22" fill="#111" stroke="#111" stroke-width="0.3">1289.89</text>
<path d="M556.2,408.4V404.5H557.7" fill="none" stroke="#555555" stroke-width="0.9"/>
<text transform="translate(560.4,404.8) rotate(-90)" font-size="7.0" letter-spacing="0.22" fill="#111" stroke="#111" stroke-width="0.3">1082.42</text>
<path d="M566.5,402.7V398.6H568" fill="none" stroke="#555555" stroke-width="0.9"/>
<text transform="translate(572.5,399.9) rotate(-90)" font-size="7.0" letter-spacing="0.22" fill="#111" stroke="#111" stroke-width="0.3">1030.68</text>
<path d="M582.4,439.5V428.2H583.9" fill="none" stroke="#555555" stroke-width="0.9"/>
<text transform="translate(588.8,429.6) rotate(-90)" font-size="7.0" letter-spacing="0.22" fill="#111" stroke="#111" stroke-width="0.3">948.45</text>
<path d="M593.6,444.6V441.5H595.1" fill="none" stroke="#555555" stroke-width="0.9"/>
<text transform="translate(600.1,442.9) rotate(-90)" font-size="7.0" letter-spacing="0.22" fill="#111" stroke="#111" stroke-width="0.3">890.84</text>
<path d="M607.7,437.4V435H609.2" fill="none" stroke="#555555" stroke-width="0.9"/>
<text transform="translate(613.8,435.7) rotate(-90)" font-size="7.0" letter-spacing="0.22" fill="#111" stroke="#111" stroke-width="0.3">817.74</text>
<path d="M636.5,431.2V425.9H638" fill="none" stroke="#555555" stroke-width="0.9"/>
<text transform="translate(642.6,426.9) rotate(-90)" font-size="7.0" letter-spacing="0.22" fill="#111" stroke="#111" stroke-width="0.3">669.09</text>
<path d="M646.7,429.7V413.5H648.2" fill="none" stroke="#555555" stroke-width="0.9"/>
<text transform="translate(653,414.5) rotate(-90)" font-size="7.0" letter-spacing="0.22" fill="#111" stroke="#111" stroke-width="0.3">617.66</text>
<path d="M657,430.3V426.2H658.5" fill="none" stroke="#555555" stroke-width="0.9"/>
<text transform="translate(663.4,428.5) rotate(-90)" font-size="7.0" letter-spacing="0.22" fill="#111" stroke="#111" stroke-width="0.3">564.05</text>
<path d="M104,460V453.5H105.5" fill="none" stroke="#555555" stroke-width="0.9"/>
<text transform="translate(111.4,455.7) rotate(-90)" font-size="7.0" letter-spacing="0.22" fill="#111" stroke="#111" stroke-width="0.3">3420.62</text>
<path d="M199.7,493.3V489.6H201.2" fill="none" stroke="#555555" stroke-width="0.9"/>
<text transform="translate(207.7,491.2) rotate(-90)" font-size="7.0" letter-spacing="0.22" fill="#111" stroke="#111" stroke-width="0.3">2927.87</text>
<path d="M430.5,484.3V479.1H432" fill="none" stroke="#555555" stroke-width="0.9"/>
<text transform="translate(436.4,482) rotate(-90)" font-size="7.0" letter-spacing="0.22" fill="#111" stroke="#111" stroke-width="0.3">1733.07</text>
<path d="M453.3,460.7V455.4H454.8" fill="none" stroke="#555555" stroke-width="0.9"/>
<text transform="translate(459.2,457.5) rotate(-90)" font-size="7.0" letter-spacing="0.22" fill="#111" stroke="#111" stroke-width="0.3">1615.74</text>
<path d="M491.3,476.4V471.2H492.8" fill="none" stroke="#555555" stroke-width="0.9"/>
<text transform="translate(497.2,473.2) rotate(-90)" font-size="7.0" letter-spacing="0.22" fill="#111" stroke="#111" stroke-width="0.3">1419.75</text>
<path d="M523.4,490.4V485.2H524.9" fill="none" stroke="#555555" stroke-width="0.9"/>
<text transform="translate(529.2,486.4) rotate(-90)" font-size="7.0" letter-spacing="0.22" fill="#111" stroke="#111" stroke-width="0.3">1254.41</text>
<path d="M556.2,449.7V446.6H557.7" fill="none" stroke="#555555" stroke-width="0.9"/>
<text transform="translate(556.1,445.9) rotate(-90)" font-size="7.0" letter-spacing="0.22" fill="#111" stroke="#111" stroke-width="0.3">1081.89</text>
<path d="M565.4,438.5V434.4H566.9" fill="none" stroke="#555555" stroke-width="0.9"/>
<text transform="translate(571.5,436.7) rotate(-90)" font-size="7.0" letter-spacing="0.22" fill="#111" stroke="#111" stroke-width="0.3">1036.17</text>
<path d="M595.1,503.6V497.4H596.6" fill="none" stroke="#555555" stroke-width="0.9"/>
<text transform="translate(601.5,499.8) rotate(-90)" font-size="7.0" letter-spacing="0.22" fill="#111" stroke="#111" stroke-width="0.3">882.16</text>
<path d="M608.4,501.5V496.4H609.9" fill="none" stroke="#555555" stroke-width="0.9"/>
<text transform="translate(614.4,498.8) rotate(-90)" font-size="7.0" letter-spacing="0.22" fill="#111" stroke="#111" stroke-width="0.3">813.88</text>
<path d="M636.6,496.4V472.9H638.1" fill="none" stroke="#555555" stroke-width="0.9"/>
<text transform="translate(643,474.2) rotate(-90)" font-size="7.0" letter-spacing="0.22" fill="#111" stroke="#111" stroke-width="0.3">668.94</text>
<path d="M647.2,495.4V489.3H648.7" fill="none" stroke="#555555" stroke-width="0.9"/>
<text transform="translate(654.2,492.6) rotate(-90)" font-size="7.0" letter-spacing="0.22" fill="#111" stroke="#111" stroke-width="0.3">616.91</text>
<text x="5" y="40" font-size="12.7" fill="#000" stroke="#000" stroke-width="0.3">Before Cu</text>
<text x="5" y="50.5" font-size="12.7" fill="#000" stroke="#000" stroke-width="0.3">biosorption</text>
<line x1="48" y1="53.5" x2="61.5" y2="62" stroke="#000" stroke-width="2.2"/>
<path d="M68.3,66.2L59.5,65.2L63.5,58.7Z" fill="#000"/>
<text x="5.7" y="93.8" font-size="12.7" fill="#000" stroke="#000" stroke-width="0.3">After  Cu</text>
<text x="5.7" y="104.5" font-size="12.7" fill="#000" stroke="#000" stroke-width="0.3">biosorption</text>
<line x1="53.3" y1="107.7" x2="74.3" y2="119.1" stroke="#000" stroke-width="2.2"/>
<path d="M81.3,122.9L72.5,122.4L76.1,115.7Z" fill="#000"/>
<text x="2.2" y="230.6" font-size="12.7" fill="#000" stroke="#000" stroke-width="0.3">Before Pb</text>
<text x="2.2" y="240.7" font-size="12.7" fill="#000" stroke="#000" stroke-width="0.3">biosorption</text>
<line x1="44.8" y1="244.1" x2="56.1" y2="253.5" stroke="#000" stroke-width="2.2"/>
<path d="M62.3,258.6L53.7,256.4L58.6,250.6Z" fill="#000"/>
<text x="3" y="283.8" font-size="12.7" fill="#000" stroke="#000" stroke-width="0.3">After Pb</text>
<text x="3" y="293.9" font-size="12.7" fill="#000" stroke="#000" stroke-width="0.3">biosorption</text>
<line x1="48" y1="297.4" x2="58.4" y2="306.6" stroke="#000" stroke-width="2.2"/>
<path d="M64.4,311.9L55.9,309.4L60.9,303.8Z" fill="#000"/>
<text x="5.3" y="387.1" font-size="12.7" fill="#000" stroke="#000" stroke-width="0.3">Before Cd</text>
<text x="5.3" y="397.3" font-size="12.7" fill="#000" stroke="#000" stroke-width="0.3">biosorption</text>
<line x1="51.2" y1="401.6" x2="63.1" y2="411.4" stroke="#000" stroke-width="2.2"/>
<path d="M69.3,416.5L60.7,414.3L65.5,408.5Z" fill="#000"/>
<text x="4.7" y="448.5" font-size="12.7" fill="#000" stroke="#000" stroke-width="0.3">After Cd</text>
<text x="4.7" y="458.5" font-size="12.7" fill="#000" stroke="#000" stroke-width="0.3">biosorption</text>
<line x1="54.4" y1="462.1" x2="65.1" y2="471.7" stroke="#000" stroke-width="2.2"/>
<path d="M71,477.1L62.5,474.6L67.6,468.9Z" fill="#000"/>
<text x="0.4" y="176.9" font-size="17" fill="#000" stroke="#000" stroke-width="0.3">(a)</text>
<text x="0" y="353.7" font-size="17" fill="#000" stroke="#000" stroke-width="0.3">(b)</text>
<text x="0" y="553" font-size="17" fill="#000" stroke="#000" stroke-width="0.3">(c)</text>
<text x="307.5" y="560.9" font-size="11.9" fill="#000" stroke="#000" stroke-width="0.25">Wave number (cm<tspan font-size="7.5" dy="-4.5">-1</tspan><tspan dy="4.5">)</tspan></text>
</svg></body></html>
